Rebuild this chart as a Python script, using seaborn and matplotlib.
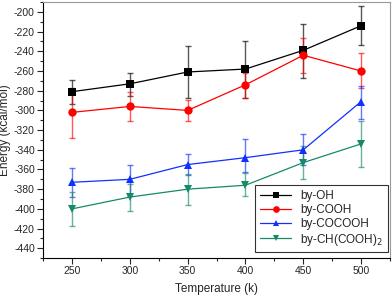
import numpy as np
import pandas as pd
import matplotlib
matplotlib.use("Agg")
import matplotlib.pyplot as plt
import seaborn as sns
from matplotlib.ticker import MultipleLocator

temps = [250, 300, 350, 400, 450, 500]

oh = [-281, -273, -261, -258, -239, -214]
oh_lo = [-293, -285, -287, -287, -267, -234]
oh_hi = [-269, -262, -235, -230, -212, -194]

cooh = [-302, -296, -300, -274, -244, -260]
cooh_lo = [-328, -311, -311, -287, -262, -277]
cooh_hi = [-277, -281, -289, -262, -226, -242]

cocooh = [-373, -370, -355, -348, -340, -291]
cocooh_lo = [-388, -387, -366, -363, -355, -309]
cocooh_hi = [-358, -355, -344, -329, -324, -275]

chcooh = [-400, -388, -380, -376, -353, -334]
chcooh_lo = [-417, -402, -396, -387, -370, -357]
chcooh_hi = [-383, -375, -365, -364, -336, -311]

names = ["by-OH", "by-COOH", "by-COCOOH", "by-CH(COOH)$_2$"]
colors = ["#000000", "#ff0000", "#1030ff", "#168a66"]
markers = ["s", "o", "^", "v"]

series = [(oh, oh_lo, oh_hi), (cooh, cooh_lo, cooh_hi),
          (cocooh, cocooh_lo, cocooh_hi), (chcooh, chcooh_lo, chcooh_hi)]

rows = []
for name, (v, lo, hi) in zip(names, series):
    for t, y, a, b in zip(temps, v, lo, hi):
        rows.append({"T": t, "E": y, "lo": a, "hi": b, "s": name})
df = pd.DataFrame(rows)

sns.set_style("ticks")
plt.rcParams["font.family"] = ["Liberation Sans", "DejaVu Sans"]
plt.rcParams["axes.unicode_minus"] = False

fig = plt.figure(figsize=(3.92, 2.96), dpi=100)
ax = fig.add_axes([0.110, 0.128, 0.885, 0.865])

for name, c in zip(names, colors):
    d = df[df.s == name]
    ax.errorbar(d["T"], d["E"], yerr=[d["E"] - d["lo"], d["hi"] - d["E"]],
                fmt="none", ecolor=c, alpha=0.65, elinewidth=1.0, capsize=2.5, capthick=1.0)

sns.lineplot(data=df, x="T", y="E", hue="s", style="s", palette=colors,
             markers=markers, dashes=False, markersize=6, markeredgewidth=0,
             linewidth=0.9, ax=ax)

ax.set_xlim(225, 525)
ax.set_ylim(-450, -190)
ax.xaxis.set_major_locator(MultipleLocator(50))
ax.xaxis.set_minor_locator(MultipleLocator(25))
ax.yaxis.set_major_locator(MultipleLocator(20))
ax.yaxis.set_minor_locator(MultipleLocator(10))
ax.tick_params(labelsize=7.5, length=4, width=0.8, pad=2)
ax.tick_params(which="minor", length=2, width=0.8)
ax.set_xlabel("Temperature (k)", fontsize=8.5, labelpad=5)
ax.set_ylabel("Energy (kcal/mol)", fontsize=8.5, labelpad=2)
for s in ["top", "right"]:
    ax.spines[s].set_color("#999999")
for s in ["left", "bottom"]:
    ax.spines[s].set_color("black")

leg = ax.legend(loc="lower right", fontsize=8.5, frameon=True, fancybox=False,
                edgecolor="black", handlelength=2.6, borderpad=0.4,
                labelspacing=0.15, markerscale=0.8, borderaxespad=0,
                bbox_to_anchor=(0.994, 0.023))
leg.get_frame().set_linewidth(0.8)

fig.savefig("out.png", dpi=100)
